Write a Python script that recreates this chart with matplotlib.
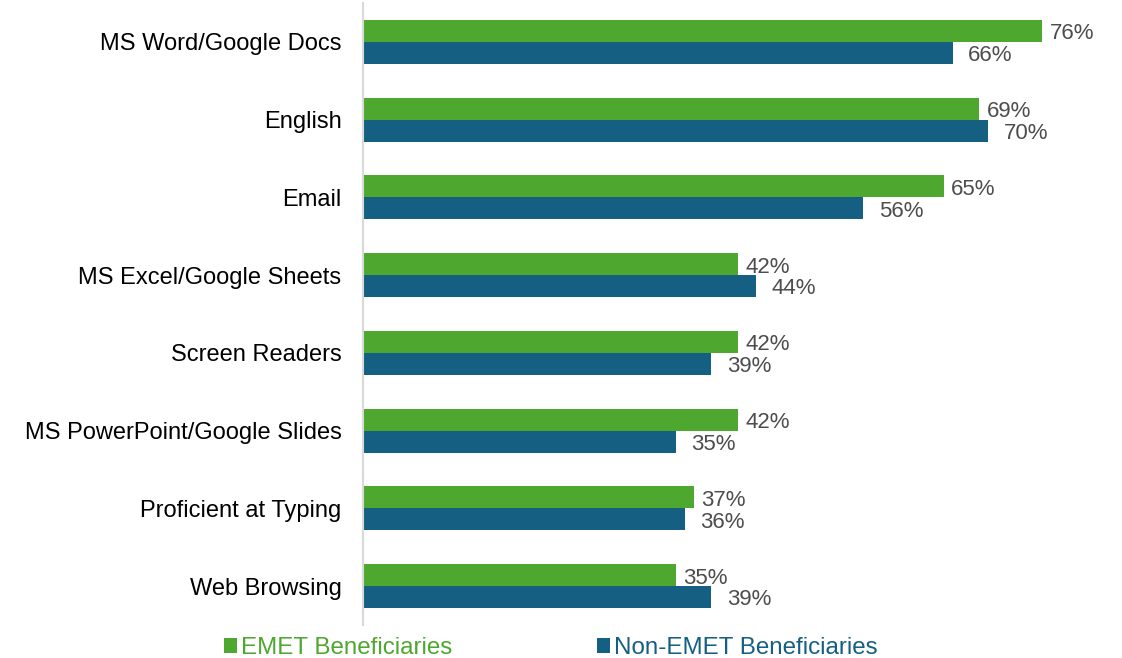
import matplotlib
matplotlib.use("Agg")
import matplotlib.pyplot as plt
from matplotlib.patches import Patch
import numpy as np

categories = ["MS Word/Google Docs", "English", "Email", "MS Excel/Google Sheets",
              "Screen Readers", "MS PowerPoint/Google Slides", "Proficient at Typing",
              "Web Browsing"]
emet = [76, 69, 65, 42, 42, 42, 37, 35]
non_emet = [66, 70, 56, 44, 39, 35, 36, 39]
series_names = ["EMET Beneficiaries", "Non-EMET Beneficiaries"]

GREEN = "#4EA72E"
BLUE = "#156082"

plt.rcParams['font.family'] = ['Liberation Sans', 'DejaVu Sans']

W, H = 1122, 658
fig = plt.figure(figsize=(W / 100, H / 100), dpi=100)
left, right = 363, 1100
top, bottom = 3, 625
ax = fig.add_axes([left / W, 1 - bottom / H, (right - left) / W, (bottom - top) / H])

px_per_pct = (1042 - 363) / 76.0
ax.set_xlim(0, (right - left) / px_per_pct)

y = np.arange(len(categories))
h = 0.283
ax.barh(y - h / 2, emet, height=h, color=GREEN)
ax.barh(y + h / 2, non_emet, height=h, color=BLUE)
ax.set_ylim(len(categories) - 0.5, -0.5)

for yi, v in zip(y, emet):
    ax.annotate(f"{v}%", (v, yi - h / 2), xytext=(5.5, -2.2), textcoords="offset points",
                va="center", ha="left", fontsize=16, color="#4D4D4D")
for yi, v in zip(y, non_emet):
    ax.annotate(f"{v}%", (v, yi + h / 2), xytext=(11, -2.0), textcoords="offset points",
                va="center", ha="left", fontsize=16, color="#4D4D4D")

ax.set_yticks(y)
ax.set_yticklabels(categories, fontsize=17, color="#000000")
ax.tick_params(axis="y", length=0, pad=15.5)
ax.set_xticks([])
for s in ["top", "right", "bottom"]:
    ax.spines[s].set_visible(False)
ax.spines["left"].set_color("#D9D9D9")
ax.spines["left"].set_linewidth(1.5)

handles = [Patch(facecolor=GREEN), Patch(facecolor=BLUE)]
leg = fig.legend(handles, series_names, loc="center left",
                 bbox_to_anchor=(224 / W, 1 - 648 / H), ncol=2, frameon=False,
                 fontsize=17.4, handlelength=0.55, handleheight=0.55,
                 handletextpad=0.15, columnspacing=6.0, borderaxespad=0, borderpad=0)
for t, c in zip(leg.get_texts(), [GREEN, BLUE]):
    t.set_color(c)

fig.savefig("out.png", dpi=100)
